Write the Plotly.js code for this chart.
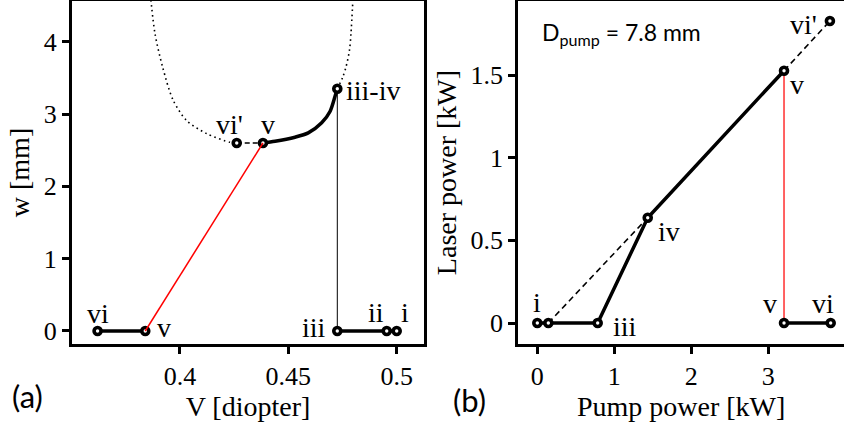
<!DOCTYPE html>
<html>
<head>
<meta charset="utf-8">
<script src="https://cdn.plot.ly/plotly-3.0.1.min.js"></script>
<style>html,body{margin:0;padding:0;background:#fff;}#chart{width:844px;height:425px;}</style>
</head>
<body>
<div id="chart"></div>
<script>
// ---------- Panel (a): beam size w [mm] vs V [diopter] ----------
const aCurveLeftV  = [0.3866, 0.3885, 0.3920, 0.3969, 0.4031, 0.4123, 0.4231, 0.4262];
const aCurveLeftW  = [4.58, 4.11, 3.65, 3.19, 2.91, 2.73, 2.61, 2.60];
const aCurveRightV = [0.4726, 0.4751, 0.4766, 0.4782, 0.4789, 0.4798];
const aCurveRightW = [3.35, 3.51, 3.65, 3.88, 4.11, 4.58];
const aSolidCurveV = [0.4383, 0.4439, 0.4531, 0.4592, 0.4654, 0.4693, 0.4716, 0.4726];
const aSolidCurveW = [2.60, 2.623, 2.68, 2.74, 2.88, 3.04, 3.25, 3.35];
const aDashV = [0.4262, 0.4383];
const aDashW = [2.60, 2.60];
const aRedV = [0.384, 0.4383];
const aRedW = [0, 2.60];
const aVertV = [0.4726, 0.4726];
const aVertW = [0, 3.35];
const aLow1V = [0.362, 0.384];
const aLow2V = [0.4726, 0.4954, 0.500];
const aPointV = [0.362, 0.384, 0.4726, 0.4954, 0.500, 0.4262, 0.4383, 0.4726];
const aPointW = [0, 0, 0, 0, 0, 2.60, 2.60, 3.35];
const aPointLabel = ["vi", "v", "iii", "ii", "i", "vi'", "v", "iii-iv"];

// ---------- Panel (b): laser power vs pump power ----------
const bSolidP = [0, 0.143, 0.784, 1.434, 3.204];
const bSolidL = [0, 0, 0, 0.637, 1.526];
const bDash1P = [0.143, 1.434];
const bDash1L = [0, 0.637];
const bDash2P = [3.204, 3.80];
const bDash2L = [1.526, 1.827];
const bLowP = [3.204, 3.81];
const bLowL = [0, 0];
const bRedP = [3.204, 3.204];
const bRedL = [0, 1.526];
const bPointP = [0, 0.143, 0.784, 1.434, 3.204, 3.80, 3.204, 3.81];
const bPointL = [0, 0, 0, 0.637, 1.526, 1.827, 0, 0];
const bPointLabel = ["i", "", "iii", "iv", "v", "vi'", "v", "vi"];

// tick labels
const aTickVals = [0.4, 0.45, 0.5];
const aTickText = ["0.4", "0.45", "0.5"];
const aYTickVals = [0, 1, 2, 3, 4];
const bTickVals = [0, 1, 2, 3];
const bYTickVals = [0, 0.5, 1, 1.5];
const bYTickText = ["0", "0.5", "1", "1.5"];

// ---------- styles ----------
const SERIF = "Liberation Serif";
const SANS = "Lato";
const thick = {color: "black", width: 3.5};
const mk = {symbol: "circle", size: 7, color: "white", line: {color: "black", width: 3.6}};
const dotted = {color: "black", width: 1.6, dash: "1.6px,3.4px"};

function ln(x, y, xa, ya, line, shape) {
  return {x: x, y: y, xaxis: xa, yaxis: ya, type: "scatter", mode: "lines",
          line: Object.assign({shape: shape || "linear", smoothing: 0.8}, line),
          hoverinfo: "skip", showlegend: false};
}

const traces = [
  ln(aCurveLeftV, aCurveLeftW, "x", "y", dotted, "spline"),
  ln(aCurveRightV, aCurveRightW, "x", "y", dotted, "spline"),
  ln(aDashV, aDashW, "x", "y", {color: "black", width: 1.6, dash: "5px,3px"}),
  ln(aVertV, aVertW, "x", "y", {color: "black", width: 1}),
  ln(aSolidCurveV, aSolidCurveW, "x", "y", thick, "spline"),
  ln(aLow1V, [0, 0], "x", "y", thick),
  ln(aLow2V, [0, 0, 0], "x", "y", thick),
  {x: aPointV, y: aPointW, xaxis: "x", yaxis: "y", type: "scatter", mode: "markers",
   marker: mk, hoverinfo: "skip", showlegend: false},
  ln(aRedV, aRedW, "x", "y", {color: "#ff0000", width: 1.5}),

  ln(bDash1P, bDash1L, "x2", "y2", {color: "black", width: 1.6, dash: "6px,4px"}),
  ln(bDash2P, bDash2L, "x2", "y2", {color: "black", width: 1.6, dash: "6px,4px"}),
  ln(bSolidP, bSolidL, "x2", "y2", thick),
  ln(bLowP, bLowL, "x2", "y2", thick),
  ln(bRedP, bRedL, "x2", "y2", {color: "#ff3b3b", width: 1.6}),
  {x: bPointP, y: bPointL, xaxis: "x2", yaxis: "y2", type: "scatter", mode: "markers",
   marker: mk, hoverinfo: "skip", showlegend: false}
];

// label offsets in pixels (xanchor, xshift, yshift)
const aLabelPos = [
  ["center", 0, 17], ["left", 10, 3], ["right", -9, 3], ["center", -11, 18],
  ["center", 8, 18], ["center", -7, 19], ["center", 5, 19], ["left", 7, -2]
];
const bLabelPos = [
  ["center", 0, 21], ["center", 0, 0], ["left", 13, -3], ["left", 8, -14],
  ["center", 13, -14], ["right", -11, -4], ["center", -14, 20], ["center", -8, 20]
];

const annotations = [];
aPointLabel.forEach((t, i) => {
  const p = aLabelPos[i];
  annotations.push({x: aPointV[i], y: aPointW[i], xref: "x", yref: "y", text: t,
    showarrow: false, xanchor: p[0], yanchor: "middle", xshift: p[1], yshift: p[2],
    font: {family: SERIF, size: 28, color: "black"}});
});
bPointLabel.forEach((t, i) => {
  if (!t) return;
  const p = bLabelPos[i];
  annotations.push({x: bPointP[i], y: bPointL[i], xref: "x2", yref: "y2", text: t,
    showarrow: false, xanchor: p[0], yanchor: "middle", xshift: p[1], yshift: p[2],
    font: {family: SERIF, size: 28, color: "black"}});
});
annotations.push({xref: "paper", yref: "paper", x: 0.012, y: -0.152, xanchor: "left", yanchor: "middle",
  text: "(a)", showarrow: false, font: {family: SANS, size: 31, color: "black"}});
annotations.push({xref: "paper", yref: "paper", x: 451 / 844, y: -0.162, xanchor: "left", yanchor: "middle",
  text: "(b)", showarrow: false, font: {family: SANS, size: 31, color: "black"}});
annotations.push({xref: "x2 domain", yref: "y2 domain", x: 0.066, y: 0.905, xanchor: "left", yanchor: "middle",
  text: "D<sub>pump</sub> = 7.8 mm", showarrow: false, font: {family: SANS, size: 23, color: "black"}});

function axis(extra) {
  return Object.assign({
    showline: true, linecolor: "black", linewidth: 3,
    ticks: "outside", ticklen: 7, tickwidth: 3, tickcolor: "black",
    showgrid: false, zeroline: false,
    tickfont: {family: SERIF, size: 26, color: "black"},
    fixedrange: true
  }, extra);
}

const titleFont = {family: SERIF, size: 28, color: "black"};

const layout = {
  width: 844, height: 425,
  margin: {l: 0, r: 0, t: 1, b: 81},
  paper_bgcolor: "white", plot_bgcolor: "white",
  showlegend: false,
  xaxis: axis({domain: [72 / 844, 424 / 844], range: [0.3502, 0.5126], mirror: true,
    tickvals: aTickVals, ticktext: aTickText, anchor: "y",
    title: {text: "V [diopter]", font: titleFont, standoff: 2}}),
  yaxis: axis({domain: [0, 1], range: [-0.18, 4.564], mirror: true, tickvals: aYTickVals, anchor: "x",
    title: {text: "w [mm]", font: titleFont, standoff: 6}}),
  xaxis2: axis({domain: [518.3 / 844, 1], range: [-0.247, 3.983], mirror: true,
    tickvals: bTickVals, anchor: "y2",
    title: {text: "Pump power [kW]", font: titleFont, standoff: 2}}),
  yaxis2: axis({domain: [0, 1], range: [-0.127, 1.9476], tickvals: bYTickVals, ticktext: bYTickText, anchor: "x2",
    title: {text: "Laser power [kW]", font: titleFont, standoff: 6}}),
  annotations: annotations
};

Plotly.newPlot("chart", traces, layout, {staticPlot: true, displayModeBar: false});
</script>
</body>
</html>
